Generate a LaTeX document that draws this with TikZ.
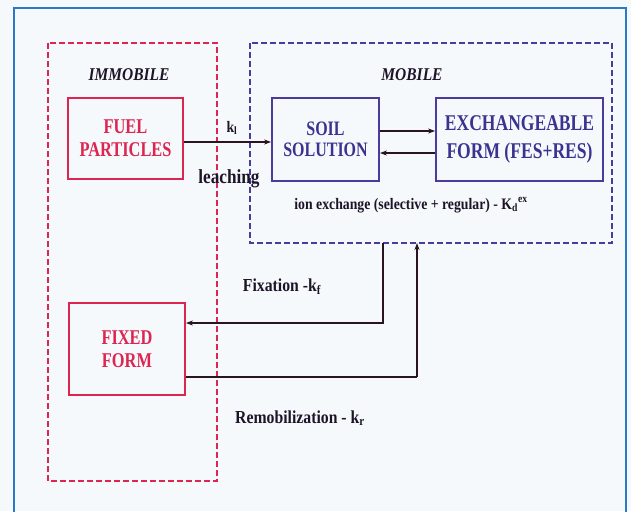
\documentclass[tikz,border=0pt]{standalone}
\usepackage{fontspec}
\setmainfont{Liberation Serif}[FakeStretch=0.86]
\newfontfamily\condfont{Liberation Serif}[FakeStretch=0.78]
\usetikzlibrary{arrows.meta}
\definecolor{bgc}{HTML}{F6F9FC}
\definecolor{framec}{HTML}{2A78C8}
\definecolor{redc}{HTML}{DC2550}
\definecolor{bluec}{HTML}{4A3C9C}
\definecolor{btext}{HTML}{3A3490}
\definecolor{arrc}{HTML}{2A1420}
\definecolor{labc}{HTML}{1E1428}
\tikzset{
  redbox/.style={draw=redc,line width=1.8pt,text=redc,font=\condfont\bfseries\fontsize{21}{23}\selectfont,align=center,inner sep=0pt},
  bluebox/.style={draw=bluec,line width=1.8pt,text=btext,font=\condfont\bfseries\fontsize{20.5}{21.5}\selectfont,align=center,inner sep=0pt},
  bigbluebox/.style={bluebox,font=\condfont\bfseries\fontsize{22.5}{28}\selectfont},
  reddash/.style={draw=redc,line width=1.8pt,dash pattern=on 6pt off 3pt},
  bluedash/.style={draw=bluec,line width=1.8pt,dash pattern=on 6pt off 3pt},
  conn/.style={draw=arrc,line width=2pt},
  arr/.style={conn,-{Stealth[length=7pt,width=5pt]}},
  lab/.style={text=labc,font=\bfseries\fontsize{16}{18}\selectfont,inner sep=0pt},
  biglab/.style={lab,font=\bfseries\fontsize{18.3}{20}\selectfont},
  title/.style={text=labc,font=\bfseries\itshape\fontsize{18}{20}\selectfont,inner sep=0pt}
}
\begin{document}
\begin{tikzpicture}[x=1pt,y=-1pt]
\useasboundingbox (0,0) rectangle (631,511);
\fill[bgc] (0,0) rectangle (631,511);
\draw[framec,line width=1.5pt] (14,515) -- (14,8) -- (626,8) -- (626,515);
% group boxes
\draw[reddash] (48,43) rectangle (217,481);
\draw[bluedash] (250,43) rectangle (612,243);
\node[title] (timm) at (129,75) {IMMOBILE};
\node[title] (tmob) at (412,75) {MOBILE};
% nodes
\node[redbox,minimum width=115pt,minimum height=81pt] (fuel) at (125.5,138.5) {FUEL\\PARTICLES};
\node[bluebox,minimum width=107pt,minimum height=83pt] (soil) at (325.5,139.5) {SOIL\\SOLUTION};
\node[bigbluebox,minimum width=167pt,minimum height=83pt] (exch) at (519.5,139.5) {EXCHANGEABLE\\FORM (FES+RES)};
\node[redbox,minimum width=116pt,minimum height=92pt] (fixed) at (127,349) {FIXED\\FORM};
% coordinates
\coordinate (fa) at (383,243);
\coordinate (fb) at (383,323);
\coordinate (ra) at (417,377);
\coordinate (rb) at (417,243);
% connectors
\draw[arr] (fuel.east |- 0,142) -- (soil.west |- 0,142);
\draw[arr] (soil.east |- 0,131) -- (exch.west |- 0,131);
\draw[arr] (exch.west |- 0,153) -- (soil.east |- 0,153);
\draw[arr] (fa) -- (fb) -- (fixed.east |- fb);
\draw[conn] (fixed.east |- ra) -- (ra);
\draw[arr] (ra) -- (rb);
% labels
\node[lab] (kl) at (232,128) {k\textsubscript{l}};
\node[biglab,font=\bfseries\fontsize{20}{22}\selectfont] (leach) at (229,179) {leaching};
\node[lab] (ionx) at (411,205) {ion exchange (selective + regular) - K\textsubscript{d}\textsuperscript{ex}};
\node[biglab] (fix) at (282,287) {Fixation -k\textsubscript{f}};
\node[biglab] (remob) at (300,418) {Remobilization - k\textsubscript{r}};
\end{tikzpicture}
\end{document}
